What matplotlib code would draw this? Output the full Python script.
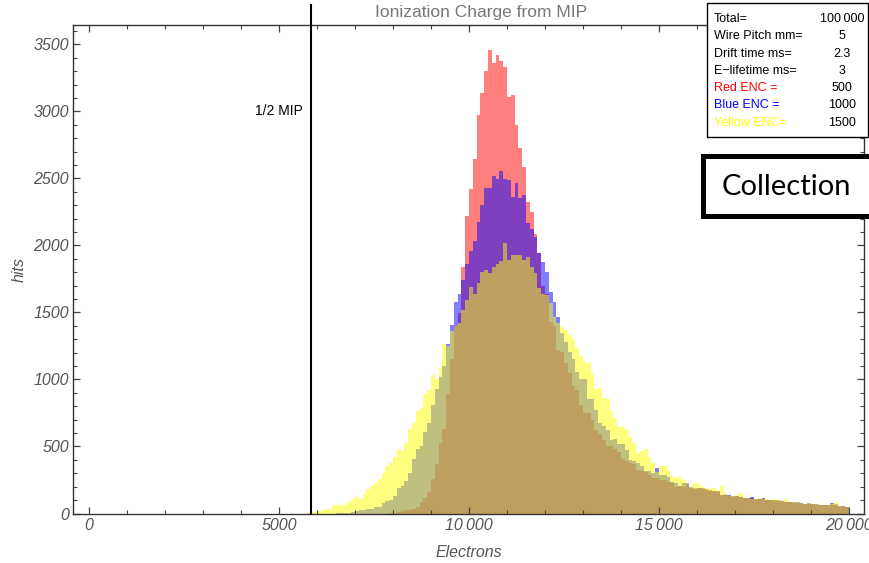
import numpy as np
import matplotlib
matplotlib.use("Agg")
import matplotlib.pyplot as plt
from matplotlib.patches import Rectangle
from matplotlib.ticker import MultipleLocator, FixedLocator

plt.rcParams['font.family'] = ['Liberation Sans', 'DejaVu Sans']

# ---------------- data (histogram counts, 100-electron bins) ----------------
bin_width = 100
bin_start = 5700  # first bin left edge; bins below are empty

yellow_counts = [
    5, 8, 10,
    15, 25, 30, 30, 60, 60, 60, 60, 85, 110,
    124, 110, 149, 184, 204, 224, 259, 303, 358, 378,
    418, 478, 465, 527, 634, 677, 766, 789, 893, 925,
    1030, 1005, 1095, 1266, 1250, 1364, 1400, 1424, 1519, 1593,
    1693, 1638, 1718, 1804, 1817, 1792, 1842, 1862, 1887, 2021,
    1892, 1929, 1929, 1929, 1892, 1917, 1842, 1792, 1680, 1638,
    1631, 1568, 1469, 1419, 1390, 1369, 1332, 1302, 1233, 1175,
    1133, 1121, 1046, 927, 937, 859, 852, 763, 713, 648,
    648, 623, 569, 529, 454, 469, 479, 424, 379, 310,
    355, 355, 325, 282, 265, 275, 250, 230, 200, 230,
    220, 200, 188, 180, 188, 175, 205, 146, 131, 131,
    136, 151, 113, 118, 110, 106, 113, 110, 111, 101,
    106, 101, 95, 111, 86, 86, 86, 76, 71, 76,
    73, 70, 66, 66, 63, 70, 83, 56, 56, 50,
]

blue_counts = [
    0, 0, 0,
    0, 0, 0, 0, 0, 3, 3, 5, 5, 10,
    17, 25, 25, 37, 37, 50, 50, 80, 90, 104,
    134, 192, 204, 246, 299, 408, 485, 502, 607, 677,
    806, 930, 1020, 1100, 1266, 1406, 1581, 1638, 1743, 1862,
    1962, 2034, 2175, 2302, 2429, 2429, 2519, 2499, 2556, 2494,
    2489, 2364, 2464, 2354, 2374, 2171, 2121, 2061, 1942, 1879,
    1805, 1651, 1581, 1469, 1345, 1282, 1207, 1150, 1058, 1001,
    1001, 852, 852, 772, 678, 653, 623, 549, 553, 519,
    519, 474, 399, 394, 375, 357, 320, 320, 300, 337,
    287, 287, 270, 235, 230, 205, 230, 225, 195, 181,
    188, 188, 175, 171, 171, 171, 140, 140, 135, 128,
    130, 120, 113, 113, 121, 106, 106, 116, 102, 100,
    98, 96, 91, 88, 85, 84, 83, 76, 70, 81,
    74, 68, 64, 63, 62, 76, 62, 56, 54, 48,
]

red_counts = [
    0, 0, 0,
    0, 0, 0, 0, 0, 0, 0, 0, 0, 0,
    0, 0, 0, 0, 0, 0, 0, 0, 0, 3,
    5, 8, 15, 25, 25, 35, 50, 85, 112, 164,
    261, 373, 527, 632, 893, 1150, 1400, 1494, 1842, 2220,
    2422, 2648, 2974, 3140, 3305, 3459, 3364, 3422, 3377, 3334,
    3110, 3123, 2899, 2725, 2588, 2322, 2250, 2086, 1942, 1700,
    1640, 1431, 1400, 1220, 1208, 1120, 1046, 950, 922, 810,
    752, 748, 698, 623, 593, 549, 504, 506, 479, 461,
    404, 394, 379, 369, 325, 320, 310, 290, 267, 267,
    250, 250, 237, 225, 195, 205, 200, 220, 194, 188,
    194, 185, 180, 172, 165, 160, 138, 146, 131, 125,
    128, 120, 118, 113, 116, 100, 108, 106, 104, 98,
    96, 98, 90, 88, 86, 82, 80, 78, 74, 74,
    70, 66, 64, 62, 64, 66, 70, 52, 55, 50,
]

mip_half = 5850
x_ticks = [0, 5000, 10000, 15000, 20000]
x_tick_labels = ["0", "5000", "10\u2009000", "15\u2009000", "20\u2009000"]
y_ticks = [0, 500, 1000, 1500, 2000, 2500, 3000, 3500]

info_labels = ["Total=", "Wire Pitch mm=", "Drift time ms=", "E\u2212lifetime ms=",
               "Red ENC =", "Blue ENC =", "Yellow ENC="]
info_values = ["100\u2009000", "5", "2.3", "3", "500", "1000", "1500"]
info_colors = ["black", "black", "black", "black", "#ff0000", "#0000ff", "#ffff00"]

# ---------------- figure ----------------
W, H = 870, 563
fig = plt.figure(figsize=(W / 100, H / 100), dpi=100)

def fx(px):
    return px / W

def fy(py):
    return 1 - py / H

ax_left, ax_right, ax_top, ax_bottom = 73, 864, 25, 513.5
ax = fig.add_axes([fx(ax_left), fy(ax_bottom), fx(ax_right - ax_left), (ax_bottom - ax_top) / H])

n = len(yellow_counts)
edges = bin_start + bin_width * np.arange(n + 1)

ax.stairs(red_counts, edges, fill=True, color=(1, 0, 0, 0.5), linewidth=0)
ax.stairs(blue_counts, edges, fill=True, color=(0, 0, 1, 0.5), linewidth=0)
ax.stairs(yellow_counts, edges, fill=True, color=(1, 1, 0, 0.5), linewidth=0)

ax.set_xlim(-421, 20395)
ax.set_ylim(0, 3645)

# half-MIP marker
ax.plot([mip_half, mip_half], [0, 3795], color='black', lw=1.5, clip_on=False, zorder=5)
ax.text(mip_half - 230, 3000, "1/2 MIP", ha='right', va='center', fontsize=10, color='black')

# ticks
tick_gray = '#555555'
ax.xaxis.set_major_locator(FixedLocator(x_ticks))
ax.set_xticklabels(x_tick_labels)
ax.xaxis.set_minor_locator(MultipleLocator(1000))
ax.yaxis.set_major_locator(FixedLocator(y_ticks))
ax.yaxis.set_minor_locator(MultipleLocator(100))
ax.tick_params(which='both', direction='in', top=True, right=True, color='#444444')
ax.tick_params(which='major', length=5, width=0.9)
ax.tick_params(which='minor', length=3, width=0.8)
ax.tick_params(axis='both', which='major', labelsize=11.5, labelcolor=tick_gray)
ax.tick_params(axis='x', pad=3)
ax.tick_params(axis='y', pad=3)
for lab in ax.get_xticklabels() + ax.get_yticklabels():
    lab.set_fontstyle('italic')
for s in ax.spines.values():
    s.set_color('#333333')
    s.set_linewidth(1.0)

ax.set_xlabel("Electrons", fontsize=11.5, color=tick_gray, style='italic', labelpad=9)
ax.set_ylabel("hits", fontsize=11.5, color=tick_gray, style='italic', labelpad=5)
fig.text(fx(481), fy(13), "Ionization Charge from MIP", ha='center', va='center',
         fontsize=12.5, color='#777777')

# info box (top right)
fig.add_artist(Rectangle((fx(707), fy(137)), fx(868 - 707), (137 - 3) / H,
                         transform=fig.transFigure, facecolor='white', edgecolor='black',
                         linewidth=1.0, zorder=10))
row_y0, row_dy = 19, 17.3
for i, (lab, val, col) in enumerate(zip(info_labels, info_values, info_colors)):
    yy = fy(row_y0 + i * row_dy)
    fig.text(fx(714), yy, lab, ha='left', va='center', fontsize=9, color=col, zorder=11)
    fig.text(fx(842), yy, val, ha='center', va='center', fontsize=9, color='black', zorder=11)

# "Collection" box
fig.add_artist(Rectangle((fx(703.5), fy(216)), fx(900 - 703.5), (216 - 155.5) / H,
                         transform=fig.transFigure, facecolor='white', edgecolor='black',
                         linewidth=3.6, zorder=10, clip_on=False))
fig.text(fx(722), fy(187), "Collection", ha='left', va='center', fontsize=21,
         family=['Lato', 'DejaVu Sans'], color='black', zorder=11)

fig.savefig("out.png", dpi=100)
